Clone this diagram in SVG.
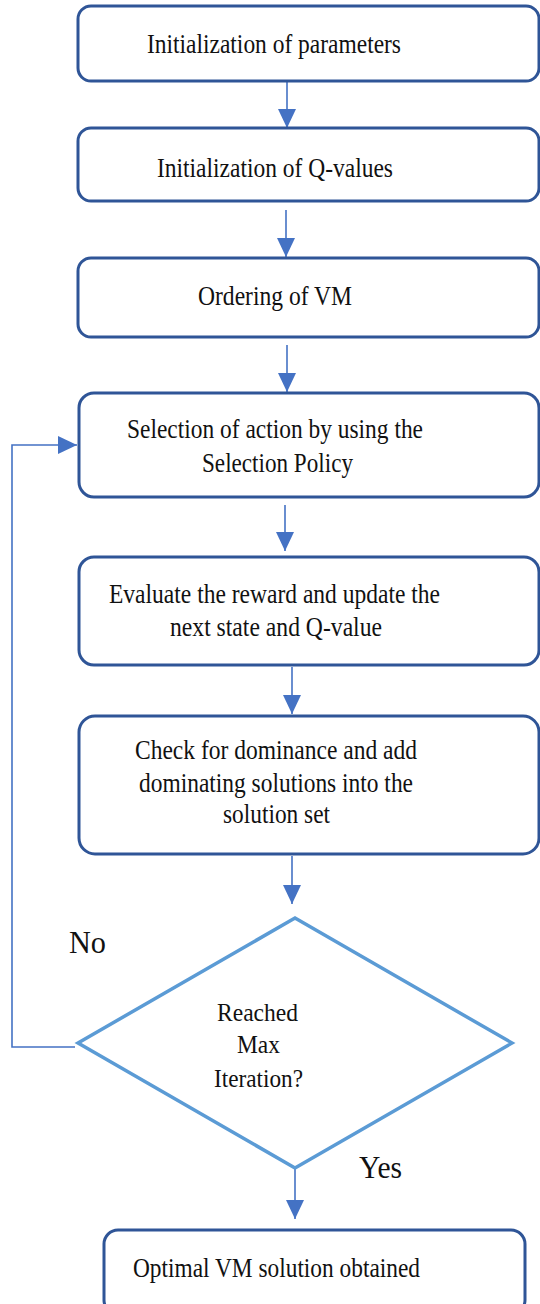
<svg xmlns="http://www.w3.org/2000/svg" width="540" height="1304" viewBox="0 0 540 1304">
<defs>
<style>
.box{fill:#fff;stroke:#2F5597;stroke-width:3}
.dia{fill:#fff;stroke:#5B9BD5;stroke-width:3.5;stroke-linejoin:miter}
.c{fill:none;stroke:#4472C4;stroke-width:1.6}
</style>
<marker id="ah" markerUnits="userSpaceOnUse" markerWidth="20" markerHeight="20" refX="19" refY="9" orient="auto">
<path d="M0,0 L19,9 L0,18 z" fill="#4472C4"/>
</marker>
</defs>
<rect width="540" height="1304" fill="#fff"/>
<g id="connectors">
<line class="c" x1="287" y1="81" x2="287" y2="128" marker-end="url(#ah)"/>
<line class="c" x1="286" y1="210" x2="286" y2="257" marker-end="url(#ah)"/>
<line class="c" x1="287" y1="345" x2="287" y2="392" marker-end="url(#ah)"/>
<line class="c" x1="285" y1="505" x2="285" y2="551" marker-end="url(#ah)"/>
<line class="c" x1="292" y1="667" x2="292" y2="714" marker-end="url(#ah)"/>
<line class="c" x1="292" y1="856" x2="292" y2="904" marker-end="url(#ah)"/>
<line class="c" x1="295" y1="1168" x2="295" y2="1219" marker-end="url(#ah)"/>
<polyline class="c" points="75,1047 12,1047 12,445 77,445" marker-end="url(#ah)"/>
</g>
<g font-family="Liberation Serif" font-size="27" fill="#111">
<g id="n1">
<rect class="box" x="78" y="6" width="461" height="75" rx="13"/>
<text x="147" y="53" textLength="254" lengthAdjust="spacingAndGlyphs">Initialization of parameters</text>
</g>
<g id="n2">
<rect class="box" x="78" y="128" width="461" height="73" rx="13"/>
<text x="157" y="177" textLength="236" lengthAdjust="spacingAndGlyphs">Initialization of Q-values</text>
</g>
<g id="n3">
<rect class="box" x="78" y="258" width="461" height="79" rx="13"/>
<text x="198" y="305" textLength="154" lengthAdjust="spacingAndGlyphs">Ordering of VM</text>
</g>
<g id="n4">
<rect class="box" x="79" y="393" width="460" height="104" rx="15"/>
<text x="127" y="438" textLength="296" lengthAdjust="spacingAndGlyphs">Selection of action by using the</text>
<text x="202" y="472" textLength="151" lengthAdjust="spacingAndGlyphs">Selection Policy</text>
</g>
<g id="n5">
<rect class="box" x="79" y="557" width="460" height="108" rx="15"/>
<text x="109" y="603" textLength="331" lengthAdjust="spacingAndGlyphs">Evaluate the reward and update the</text>
<text x="170" y="636" textLength="212" lengthAdjust="spacingAndGlyphs">next state and Q-value</text>
</g>
<g id="n6">
<rect class="box" x="79" y="716" width="460" height="138" rx="16"/>
<text x="135" y="759" textLength="282" lengthAdjust="spacingAndGlyphs">Check for dominance and add</text>
<text x="139" y="792" textLength="274" lengthAdjust="spacingAndGlyphs">dominating solutions into the</text>
<text x="223" y="823" textLength="107" lengthAdjust="spacingAndGlyphs">solution set</text>
</g>
<g id="n7" font-size="26">
<polygon class="dia" points="295,918 512,1043 295,1168 78,1043"/>
<text x="217" y="1021" textLength="81" lengthAdjust="spacingAndGlyphs">Reached</text>
<text x="237" y="1053" textLength="43" lengthAdjust="spacingAndGlyphs">Max</text>
<text x="214" y="1087" textLength="89" lengthAdjust="spacingAndGlyphs">Iteration?</text>
</g>
<g id="n8">
<rect class="box" x="104" y="1230" width="421" height="84" rx="14"/>
<text x="133" y="1277" textLength="287" lengthAdjust="spacingAndGlyphs">Optimal VM solution obtained</text>
</g>
<g id="labels" font-size="32">
<text x="69" y="953" textLength="37" lengthAdjust="spacingAndGlyphs">No</text>
<text x="359" y="1178" textLength="43" lengthAdjust="spacingAndGlyphs">Yes</text>
</g>
</g>
</svg>
